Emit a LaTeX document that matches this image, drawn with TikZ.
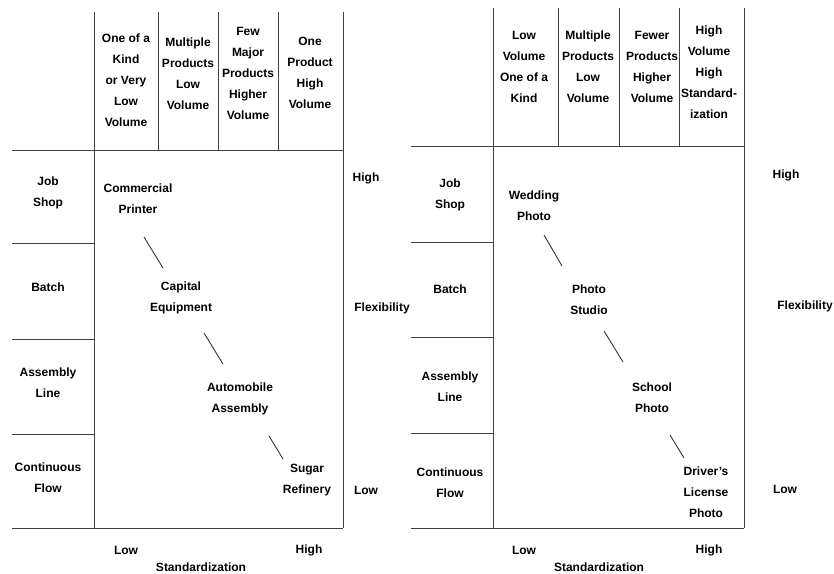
\documentclass[tikz,border=0pt]{standalone}
\usepackage{fontspec}
\setmainfont{Liberation Sans}
\usetikzlibrary{positioning}

\tikzset{
  grid/.style={line width=0.9pt,draw=black!75},
  lbl/.style={font=\fontsize{12}{21}\selectfont\bfseries,align=center,inner sep=1pt},
  link/.style={line width=0.9pt,draw=black!80},
}

\begin{document}
\begin{tikzpicture}[x=1pt,y=-1pt]
\useasboundingbox (0,0) rectangle (834,573);
% left chart: grid
\draw[grid] (94,12) -- (94,528);
\draw[grid] (158,12) -- (158,150);
\draw[grid] (218,12) -- (218,150);
\draw[grid] (278,12) -- (278,150);
\draw[grid] (343,12) -- (343,528);
\draw[grid] (12,150) -- (343,150);
\draw[grid] (12,243) -- (94,243);
\draw[grid] (12,339) -- (94,339);
\draw[grid] (12,434) -- (94,434);
\draw[grid] (12,528) -- (343,528);
% left chart: headings
\node[lbl] (lcolA) at (126,80) {One of a\\Kind\\or Very\\Low\\Volume};
\node[lbl] (lcolB) at (188,74) {Multiple\\Products\\Low\\Volume};
\node[lbl] (lcolC) at (248,73) {Few\\Major\\Products\\Higher\\Volume};
\node[lbl] (lcolD) at (310,73) {One\\Product\\High\\Volume};
\node[lbl] (lrowA) at (48,193) {Job\\Shop};
\node[lbl] (lrowB) at (48,287) {Batch};
\node[lbl] (lrowC) at (48,383) {Assembly\\Line};
\node[lbl] (lrowD) at (48,478) {Continuous\\Flow};
\node[lbl] (lhigh) at (366,178) {High};
\node[lbl] (lflex) at (382,308) {Flexibility};
\node[lbl] (llow) at (366,490) {Low};
\node[lbl] (lslow) at (126,550) {Low};
\node[lbl] (lshigh) at (309,550) {High};
\node[lbl] (lstd) at (201,567) {Standardization};
% left chart: examples
\node[lbl] (printer) at (138,199) {Commercial\\Printer};
\node[lbl] (capital) at (181,298) {Capital\\Equipment};
\node[lbl] (auto) at (240,399) {Automobile\\Assembly};
\node[lbl] (sugar) at (307,480) {Sugar\\Refinery};
\coordinate (la1) at (144,237);
\coordinate (la2) at (163,268);
\coordinate (lb1) at (204,333);
\coordinate (lb2) at (223,364);
\coordinate (lc1) at (269,436);
\coordinate (lc2) at (283,459);
\draw[link] (la1) -- (la2);
\draw[link] (lb1) -- (lb2);
\draw[link] (lc1) -- (lc2);

% right chart: grid
\draw[grid] (493,8) -- (493,528);
\draw[grid] (558,8) -- (558,146);
\draw[grid] (619,8) -- (619,146);
\draw[grid] (679,8) -- (679,146);
\draw[grid] (744,8) -- (744,528);
\draw[grid] (411,146) -- (744,146);
\draw[grid] (411,242) -- (493,242);
\draw[grid] (411,337) -- (493,337);
\draw[grid] (411,433) -- (493,433);
\draw[grid] (411,528) -- (744,528);
% right chart: headings
\node[lbl] (rcolA) at (524,67) {Low\\Volume\\One of a\\Kind};
\node[lbl] (rcolB) at (588,67) {Multiple\\Products\\Low\\Volume};
\node[lbl] (rcolC) at (652,67) {Fewer\\Products\\Higher\\Volume};
\node[lbl] (rcolD) at (709,72) {High\\Volume\\High\\Standard-\\ization};
\node[lbl] (rrowA) at (450,195) {Job\\Shop};
\node[lbl] (rrowB) at (450,289) {Batch};
\node[lbl] (rrowC) at (450,387) {Assembly\\Line};
\node[lbl] (rrowD) at (450,483) {Continuous\\Flow};
\node[lbl] (rhigh) at (786,175) {High};
\node[lbl] (rflex) at (805,306) {Flexibility};
\node[lbl] (rlow) at (785,489) {Low};
\node[lbl] (rslow) at (524,550) {Low};
\node[lbl] (rshigh) at (709,550) {High};
\node[lbl] (rstd) at (599,567) {Standardization};
% right chart: examples
\node[lbl] (wedding) at (534,206) {Wedding\\Photo};
\node[lbl] (studio) at (589,300) {Photo\\Studio};
\node[lbl] (school) at (652,398) {School\\Photo};
\node[lbl] (driver) at (706,492) {Driver's\\License\\Photo};
\coordinate (ra1) at (544,235);
\coordinate (ra2) at (562,266);
\coordinate (rb1) at (604,331);
\coordinate (rb2) at (623,362);
\coordinate (rc1) at (670,435);
\coordinate (rc2) at (684,458);
\draw[link] (ra1) -- (ra2);
\draw[link] (rb1) -- (rb2);
\draw[link] (rc1) -- (rc2);
\end{tikzpicture}
\end{document}
